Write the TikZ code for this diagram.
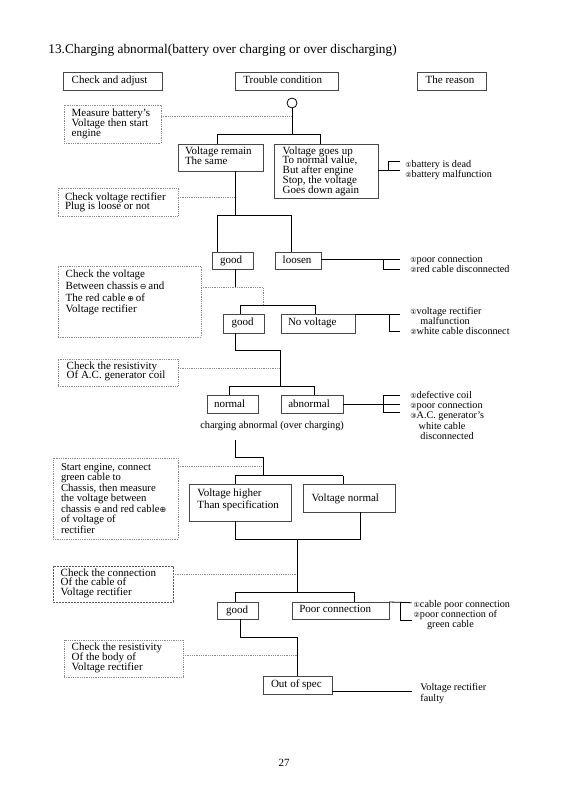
\documentclass[tikz,border=0pt]{standalone}
\usepackage{fontspec}
\setmainfont{Liberation Serif}
\newfontfamily\symf{DejaVu Sans}
\newcommand\cn[1]{{\symf\fontsize{7}{7}\selectfont #1}}
\newcommand\om{{\symf\fontsize{8}{8}\selectfont ⊖}}
\newcommand\opl{{\symf\fontsize{8}{8}\selectfont ⊕}}
\def\Lsp{9.7}
\newcommand\Ln[1]{\hbox{\hskip\Bl pt\vrule height 8pt depth 2pt width 0pt #1}}
\newcommand\bx[9]{%
\pgfmathsetmacro\Bw{#5-#3}%
\pgfmathsetmacro\Bh{#6-#4}%
\pgfmathsetmacro\Bl{#7-#3}%
\pgfmathsetmacro\Bt{#8-#4-8}%
\node[#1,anchor=north west,inner sep=0pt,outer sep=0pt,minimum width=\Bw pt,minimum height=\Bh pt] (#2) at (#3,#4)
{\vbox to \Bh pt{\hrule height 0pt width \Bw pt\kern\Bt pt\lineskiplimit=-100pt\baselineskip=\Lsp pt #9\vss}};}
\tikzset{
  lsp/.code={\def\Lsp{#1}},
  sbox/.style={draw=black!72, line width=1pt, font=\fontsize{11}{11}\selectfont},
  dbox/.style={draw=black!45, densely dotted, line width=0.8pt, font=\fontsize{11}{11}\selectfont},
  ddbox/.style={draw=black!65, dash pattern=on 2pt off 1pt, line width=0.8pt, font=\fontsize{11}{11}\selectfont},
  dotl/.style={draw=black!45, densely dotted, line width=0.8pt},
  rsn/.style={anchor=base west, inner sep=0pt, font=\fontsize{10.2}{10.2}\selectfont},
}
\begin{document}
\begin{tikzpicture}[x=1pt,y=-1pt,line width=0.8pt]
\useasboundingbox (0,0) rectangle (564,800);
\fill[white] (0,0) rectangle (564,800);

\node[anchor=base west, inner sep=0pt, font=\fontsize{13.3}{13.3}\selectfont] (title) at (48,53.3) {13.Charging abnormal(battery over charging or over discharging)};

% header
\bx{sbox}{h1}{63}{72}{162}{90}{71.7}{83.3}{\Ln{Check and adjust}}
\bx{sbox}{h2}{235}{72}{338}{90}{243.3}{83.3}{\Ln{Trouble condition}}
\bx{sbox}{h3}{417}{72}{486}{90}{425.7}{83.3}{\Ln{The reason}}

% boxes
\bx{dbox}{m1}{64}{105}{161}{143}{71.7}{116.8}{\Ln{Measure battery’s}\Ln{Voltage then start}\Ln{engine}}
\bx{sbox,lsp=10}{vr}{178}{144}{263}{171}{185}{154.2}{\Ln{Voltage remain}\Ln{The same}}
\bx{sbox}{vu}{274}{144}{378}{198}{282.7}{154.2}{\Ln{Voltage goes up}\Ln{To normal value,}\Ln{But after engine}\Ln{Stop, the voltage}\Ln{Goes down again}}
\bx{dbox,lsp=9.5}{m2}{58}{188}{178}{216}{65}{200}{\Ln{Check voltage rectifier}\Ln{Plug is loose or not}}
\bx{sbox}{g1}{212}{252}{253}{269}{220}{263}{\Ln{good}}
\bx{sbox}{lo}{275}{252}{321}{269}{282.7}{263}{\Ln{loosen}}
\bx{dbox,lsp=11.6}{m3}{58}{266}{201}{337}{65.7}{277.8}{\Ln{Check the voltage}\Ln{Between chassis\,\om\,and}\Ln{The red cable\,\opl\,of}\Ln{Voltage rectifier}}
\bx{sbox}{g2}{223}{314}{264}{333}{231.7}{325.5}{\Ln{good}}
\bx{sbox}{nv}{281}{314}{355}{333}{288}{325.5}{\Ln{No voltage}}
\bx{dbox,lsp=9.6}{m4}{58}{359}{178}{386}{66.7}{369.3}{\Ln{Check the resistivity}\Ln{Of A.C. generator coil}}
\bx{sbox}{no}{207}{395}{258}{413}{214}{407.2}{\Ln{normal}}
\bx{sbox}{ab}{281}{395}{343}{413}{288.3}{407.2}{\Ln{abnormal}}
\bx{dbox,lsp=10.55,font=\fontsize{10.7}{10.7}\selectfont}{m5}{53}{458}{178}{539}{61}{470.2}{\Ln{Start engine, connect}\Ln{green cable to}\Ln{Chassis, then measure}\Ln{the voltage between}\Ln{chassis \om\,and red cable\opl}\Ln{of voltage of}\Ln{rectifier}}
\bx{sbox,lsp=11.5}{vh}{189}{484}{291}{521}{197.3}{496.5}{\Ln{Voltage higher}\Ln{Than specification}}
\bx{sbox}{vn}{303}{484}{395}{512}{311.7}{501.2}{\Ln{Voltage normal}}
\bx{ddbox,lsp=9.6}{m6}{53}{566}{173}{602}{60.7}{576}{\Ln{Check the connection}\Ln{Of the cable of}\Ln{Voltage rectifier}}
\bx{sbox}{g3}{217}{602}{258}{619}{226}{613}{\Ln{good}}
\bx{sbox}{pc}{292}{602}{389}{619}{299.3}{612.5}{\Ln{Poor connection}}
\bx{dbox}{m7}{64}{640}{183}{677}{71.7}{650.8}{\Ln{Check the resistivity}\Ln{Of the body of}\Ln{Voltage rectifier}}
\bx{sbox}{os}{263}{676}{332}{694}{271}{687}{\Ln{Out of spec}}

\node[circle, draw, line width=0.8pt, minimum size=10pt, inner sep=0pt] (start) at (292,103) {};

% reasons
\node[rsn] (r1a) at (405,167) {\cn{①}battery is dead};
\node[rsn] (r1b) at (405,177.3) {\cn{②}battery malfunction};
\node[rsn] (r2a) at (410,262) {\cn{①}poor connection};
\node[rsn] (r2b) at (410,272) {\cn{②}red cable disconnected};
\node[rsn] (r3a) at (410,314.7) {\cn{①}voltage rectifier};
\node[rsn] (r3b) at (420,324.7) {malfunction};
\node[rsn] (r3c) at (410,334.7) {\cn{②}white cable disconnect};
\node[rsn] (r4a) at (410,398) {\cn{①}defective coil};
\node[rsn] (r4b) at (410,408) {\cn{②}poor connection};
\node[rsn] (r4c) at (410,418) {\cn{③}A.C. generator’s};
\node[rsn] (r4d) at (418.3,429) {white cable};
\node[rsn] (r4e) at (420,439) {disconnected};
\node[rsn] (r5a) at (413.3,607) {\cn{①}cable poor connection};
\node[rsn] (r5b) at (413.3,617) {\cn{②}poor connection of};
\node[rsn] (r5c) at (426.7,627.3) {green cable};
\node[rsn] (r6a) at (420,690.3) {Voltage rectifier};
\node[rsn] (r6b) at (420,701.3) {faulty};
\node[rsn, font=\fontsize{10.3}{10.3}\selectfont] (ca) at (200,428.5) {charging abnormal (over charging)};
\node[anchor=base west, inner sep=0pt, font=\fontsize{11}{11}\selectfont] (pg) at (278.3,766.5) {27};

% coordinates
\coordinate (j1) at (292,134); \coordinate (j1l) at (217,134); \coordinate (j1r) at (320,134);
\coordinate (d1) at (292,116);
\coordinate (j2) at (235,215); \coordinate (j2l) at (217.5,215); \coordinate (j2r) at (291.7,215);
\coordinate (d2) at (235,197.3);
\coordinate (b1) at (388,170.7); \coordinate (b1t) at (388,161.7); \coordinate (b1e) at (400,170.7);
\coordinate (b2) at (383.3,259); \coordinate (b2e) at (400,259); \coordinate (b2b) at (383.3,269.3);
\coordinate (j3) at (235,287.3); \coordinate (d3) at (263.3,287.3); \coordinate (d3b) at (263.3,305);
\coordinate (j4l) at (240,305); \coordinate (j4r) at (315,305);
\coordinate (b3) at (389.3,314); \coordinate (b3e) at (400,314); \coordinate (b3b) at (389.3,331.7);
\coordinate (j5) at (235,350); \coordinate (j5r) at (280,350); \coordinate (j6) at (280,386);
\coordinate (j6l) at (229.3,386); \coordinate (j6r) at (314.3,386);
\coordinate (d4) at (280,368.3);
\coordinate (b4) at (383.3,404); \coordinate (b4e) at (400,404); \coordinate (b4t) at (383.3,395); \coordinate (b4b) at (383.3,412.7);
\coordinate (k1) at (235,440); \coordinate (k2) at (235,457.3); \coordinate (k3) at (263.3,457.3); \coordinate (k4) at (263.3,475.7);
\coordinate (k4l) at (235,475.7); \coordinate (k4r) at (343.3,475.7);
\coordinate (d5) at (263.3,466.7);
\coordinate (k5l) at (235,539); \coordinate (k5r) at (360,539); \coordinate (k5) at (297.5,539);
\coordinate (k6) at (297.5,592); \coordinate (k6l) at (235,592); \coordinate (k6r) at (354.3,592);
\coordinate (d6) at (297.5,574.3);
\coordinate (b5) at (400,602.7); \coordinate (b5e) at (411.7,602.7); \coordinate (b5b) at (400,620);
\coordinate (k7) at (240,637); \coordinate (k8) at (297.5,637);
\coordinate (d7) at (297.5,655);
\coordinate (e1) at (411.7,691);

% dotted leaders
\draw[dotl] (m1.east |- d1) -- (d1);
\draw[dotl] (m2.east |- d2) -- (d2);
\draw[dotl] (m3.east |- d3) -- (d3) -- (d3b);
\draw[dotl] (m4.east |- d4) -- (d4);
\draw[dotl] (m5.east |- d5) -- (d5);
\draw[dotl] (m6.east |- d6) -- (d6);
\draw[dotl] (m7.east |- d7) -- (d7);

% connectors
\draw (start.south) -- (j1);
\draw (j1l) -- (j1r);
\draw (j1l) -- (j1l |- vr.north);
\draw (j1r) -- (j1r |- vu.north);
\draw (j2 |- vr.south) -- (j2);
\draw (j2l) -- (j2r);
\draw (j2l) -- (j2l |- g1.north);
\draw (j2r) -- (j2r |- lo.north);
\draw (vu.east |- b1) -- (b1e);
\draw (b1) -- (b1t) -- (b1t -| b1e);
\draw (lo.east |- b2) -- (b2e);
\draw (b2) -- (b2b) -- (b2b -| b2e);
\draw (j3 |- g1.south) -- (j3);
\draw (j4l) -- (j4r);
\draw (j4l) -- (j4l |- g2.north);
\draw (j4r) -- (j4r |- nv.north);
\draw (nv.north east) -- (b3e);
\draw (b3) -- (b3b) -- (b3b -| b3e);
\draw (j5 |- g2.south) -- (j5) -- (j5r) -- (j6);
\draw (j6l) -- (j6r);
\draw (j6l) -- (j6l |- no.north);
\draw (j6r) -- (j6r |- ab.north);
\draw (ab.east |- b4) -- (b4e);
\draw (b4t -| b4e) -- (b4t) -- (b4b) -- (b4b -| b4e);
\draw (k1) -- (k2) -- (k3) -- (k4);
\draw (k4l) -- (k4r);
\draw (k4l) -- (k4l |- vh.north);
\draw (k4r) -- (k4r |- vn.north);
\draw (k5l |- vh.south) -- (k5l) -- (k5r) -- (k5r |- vn.south);
\draw (k5) -- (k6);
\draw (k6l) -- (k6r);
\draw (k6l) -- (k6l |- g3.north);
\draw (k6r) -- (k6r |- pc.north);
\draw (pc.north east) -- (b5e);
\draw (b5) -- (b5b) -- (b5b -| b5e);
\draw (k7 |- g3.south) -- (k7) -- (k8) -- (k8 |- os.north);
\draw (os.east |- e1) -- (e1);
\end{tikzpicture}
\end{document}
